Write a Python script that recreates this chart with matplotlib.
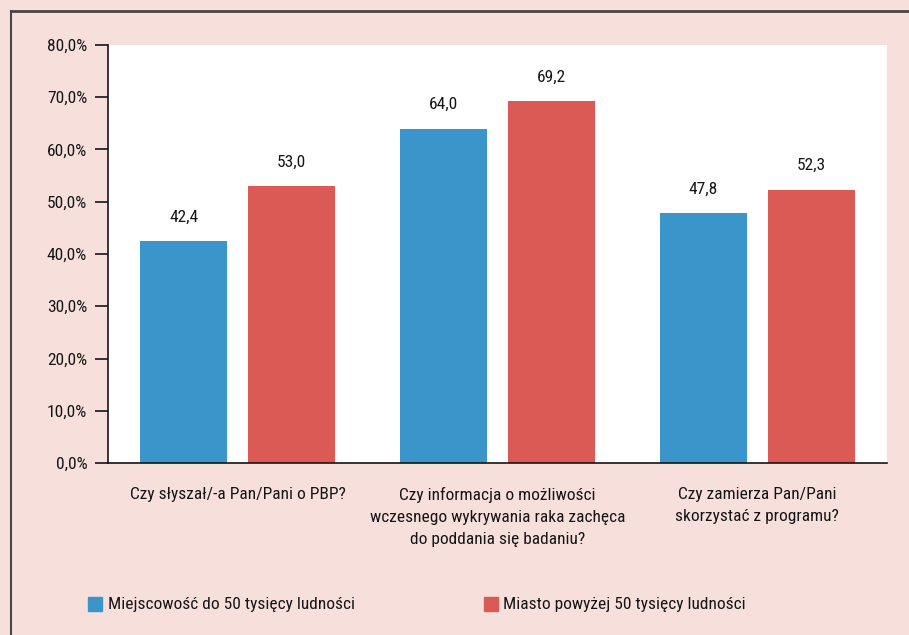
import matplotlib.pyplot as plt
import numpy as np
from matplotlib import font_manager
from matplotlib.patches import Rectangle
from matplotlib.lines import Line2D

installed = {f.name for f in font_manager.fontManager.ttflist}
narrow = [n for n in ["Liberation Sans Narrow", "Roboto Condensed", "Open Sans Condensed",
                      "Noto Sans Condensed", "DejaVu Sans Condensed"] if n in installed]
FONT = narrow[0] if narrow else "Liberation Sans"
plt.rcParams['font.family'] = [FONT, 'DejaVu Sans']
FS = 12.5 if narrow else 11.5

categories = [
    "Czy słyszał/-a Pan/Pani o PBP?",
    "Czy informacja o możliwości\nwczesnego wykrywania raka zachęca\ndo poddania się badaniu?",
    "Czy zamierza Pan/Pani\nskorzystać z programu?",
]
small_town = [42.4, 64.0, 47.8]
big_city = [53.0, 69.2, 52.3]
series_names = ["Miejscowość do 50 tysięcy ludności", "Miasto powyżej 50 tysięcy ludności"]
yticks = [0, 10, 20, 30, 40, 50, 60, 70, 80]

BLUE = "#3A96CA"
RED = "#DB5A55"
PINK = "#F7E0DC"
INK = "#151515"

fig = plt.figure(figsize=(9.09, 6.35), dpi=100, facecolor=PINK)
ax = fig.add_axes([108 / 909, 1 - 463 / 635, 779 / 909, 418 / 635])
ax.set_facecolor("white")

x = np.arange(len(categories))
w = 0.335
off = w / 2 + 0.04
b1 = ax.bar(x - off, small_town, w, color=BLUE)
b2 = ax.bar(x + off, big_city, w, color=RED)

for bars, vals in ((b1, small_town), (b2, big_city)):
    for rect, v in zip(bars, vals):
        ax.text(rect.get_x() + rect.get_width() / 2, v + 3.2, f"{v:.1f}".replace(".", ","),
                ha="center", va="bottom", fontsize=FS, color=INK)

ax.set_xlim(-0.5, 2.5)
ax.set_ylim(0, 80)
ax.set_yticks(yticks)
ax.set_yticklabels([f"{t:.1f}%".replace(".", ",") for t in yticks], fontsize=FS, color=INK)
ax.tick_params(axis="y", length=9.5, width=1.2, pad=5.5, color=INK)
ax.set_xticks(x)
ax.set_xticklabels(categories, fontsize=FS, color=INK, linespacing=1.6)
ax.tick_params(axis="x", length=0, pad=17)
for s in ("top", "right"):
    ax.spines[s].set_visible(False)
for s in ("left", "bottom"):
    ax.spines[s].set_linewidth(1.2)
    ax.spines[s].set_color(INK)

# frame lines (top and left)
fig.add_artist(Line2D([11 / 909, 1], [1 - 11 / 635] * 2, transform=fig.transFigure, color="#4a4644", lw=2))
fig.add_artist(Line2D([11 / 909] * 2, [0, 1 - 11 / 635], transform=fig.transFigure, color="#4a4644", lw=1.5))

# legend
for sx, tx, col, name in ((88, 108, BLUE, series_names[0]), (484, 503, RED, series_names[1])):
    fig.add_artist(Rectangle((sx / 909, 1 - 611 / 635), 14 / 909, 14 / 635,
                             transform=fig.transFigure, color=col))
    fig.text(tx / 909, 1 - 604 / 635, name, ha="left", va="center", fontsize=FS, color=INK)

fig.savefig("out.png", dpi=100, facecolor=PINK)
